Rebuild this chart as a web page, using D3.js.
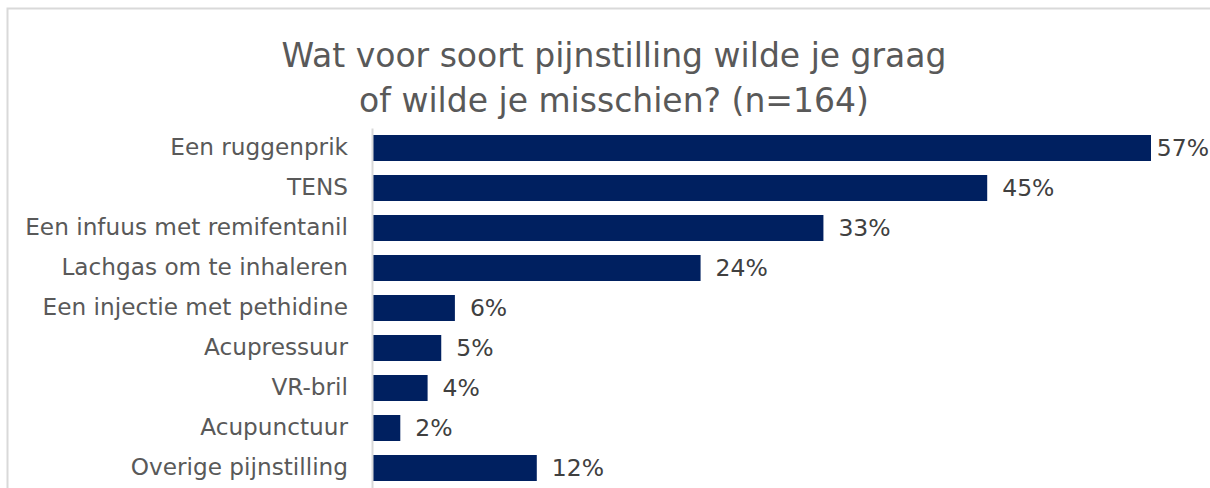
<!DOCTYPE html>
<html>
<head>
<meta charset="utf-8">
<script src="https://cdn.jsdelivr.net/npm/d3@7"></script>
<style>
  body { margin: 0; background: #fff; }
  text { font-family: "DejaVu Sans", Verdana, sans-serif; }
</style>
</head>
<body>
<div class="chart"></div>
<script>
/////////////
//Data
/////////////
var categories = ['Een ruggenprik', 'TENS', 'Een infuus met remifentanil', 'Lachgas om te inhaleren',
                  'Een injectie met pethidine', 'Acupressuur', 'VR-bril', 'Acupunctuur', 'Overige pijnstilling']
var values = [57, 45, 33, 24, 6, 5, 4, 2, 12]
var titleLines = ['Wat voor soort pijnstilling wilde je graag', 'of wilde je misschien? (n=164)']

/////////////
//Setup
/////////////
w = 1210
h = 488

var svg = d3.select('div.chart')
  .append('svg')
  .attr('width', w)
  .attr('height', h)

// chart area border (runs off the right and bottom)
svg.append('rect')
  .attr('x', 7.5).attr('y', 8.5)
  .attr('width', 1400).attr('height', 800)
  .attr('fill', 'none')
  .attr('stroke', '#d9d9d9')
  .attr('stroke-width', 2)

svg.selectAll('text.title')
  .data(titleLines)
  .enter()
  .append('text')
  .attr('class', 'title')
  .attr('x', 614)
  .attr('y', (d, i) => 67 + i * 45)
  .attr('text-anchor', 'middle')
  .attr('font-size', '33px')
  .attr('fill', '#595959')
  .text(d => d)

var x = d3.scaleLinear()
  .domain([0, 57])
  .range([373, 1151])

var y = d3.scaleBand()
  .domain(categories)
  .range([128, 488])
  .paddingInner(0.35)
  .paddingOuter(0.175)

svg.selectAll('rect.bar')
  .data(values)
  .enter()
  .append('rect')
  .attr('class', 'bar')
  .attr('x', x(0))
  .attr('y', (d, i) => y(categories[i]))
  .attr('width', d => x(d) - x(0))
  .attr('height', y.bandwidth())
  .attr('fill', '#002060')

// category axis
var axis = svg.append('g')
  .attr('transform', `translate(${x(0) - 1},0)`)
  .call(d3.axisLeft(y).tickSize(0).tickPadding(24))

axis.select('.domain').attr('stroke', '#d9d9d9').attr('stroke-width', 2)
axis.selectAll('text')
  .attr('font-size', '23.2px')
  .attr('fill', '#595959')
  .attr('font-family', '"DejaVu Sans", Verdana, sans-serif')

// value labels (the longest one is pushed back inside the frame)
svg.selectAll('text.val')
  .data(values)
  .enter()
  .append('text')
  .attr('class', 'val')
  .attr('y', (d, i) => y(categories[i]) + y.bandwidth() / 2)
  .attr('dy', '0.36em')
  .attr('font-size', '23.5px')
  .attr('fill', '#404040')
  .text(d => d + '%')
  .attr('x', function(d) {
    var tw = this.getComputedTextLength()
    return Math.min(x(d) + 15, w - 1 - tw)
  })
</script>
</body>
</html>
